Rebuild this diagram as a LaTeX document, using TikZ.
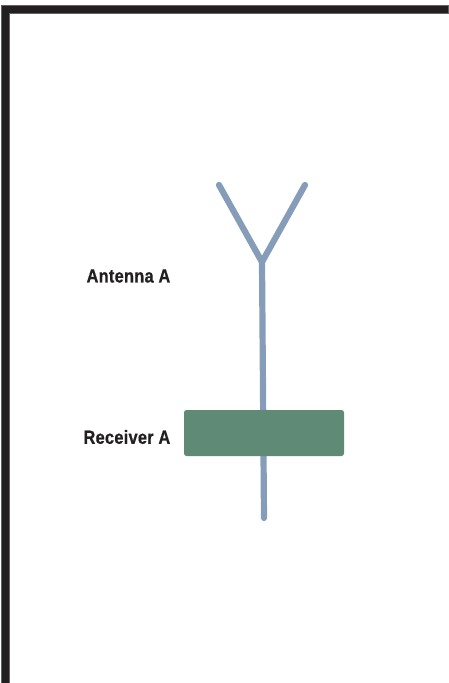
\documentclass[tikz,border=0pt]{standalone}
\usepackage{fontspec}
\setmainfont{Liberation Sans}[FakeStretch=0.86,LetterSpace=1.5,BoldFeatures={FakeBold=0.6}]
\definecolor{framec}{HTML}{231F20}
\definecolor{antc}{HTML}{869DB9}
\definecolor{recc}{HTML}{5F8A76}
\tikzset{
  framebar/.style={fill=framec,draw=framec!70,line width=0.6pt},
  wire/.style={draw=antc,line width=6.2pt,line cap=round,line join=miter},
  receiverbox/.style={fill=recc,draw=none,rounded corners=2.5pt},
  lbl/.style={font=\bfseries\fontsize{19}{21}\selectfont,text=framec,anchor=east,inner sep=0pt}
}
\begin{document}
\begin{tikzpicture}[x=1pt,y=-1pt]
\useasboundingbox (0,0) rectangle (448,683);
\fill[white] (0,0) rectangle (448,683);
\path[framebar] (1.5,683) -- (1.5,5.5) -- (448,5.5) -- (448,13) -- (9.5,13) -- (9.5,683) -- cycle;
\coordinate (tipL) at (219,185);
\coordinate (tipR) at (305,185);
\coordinate (joint) at (262,262);
\coordinate (stemEnd) at (264,518);
\draw[wire] (tipL) -- (joint) -- (tipR);
\draw[wire] (joint) -- (stemEnd);
\path[receiverbox] (184,410) rectangle (344,456);
\node[lbl] (antlabel) at (170.5,276) {Antenna A};
\node[lbl] (reclabel) at (170.5,437) {Receiver A};
\end{tikzpicture}
\end{document}
